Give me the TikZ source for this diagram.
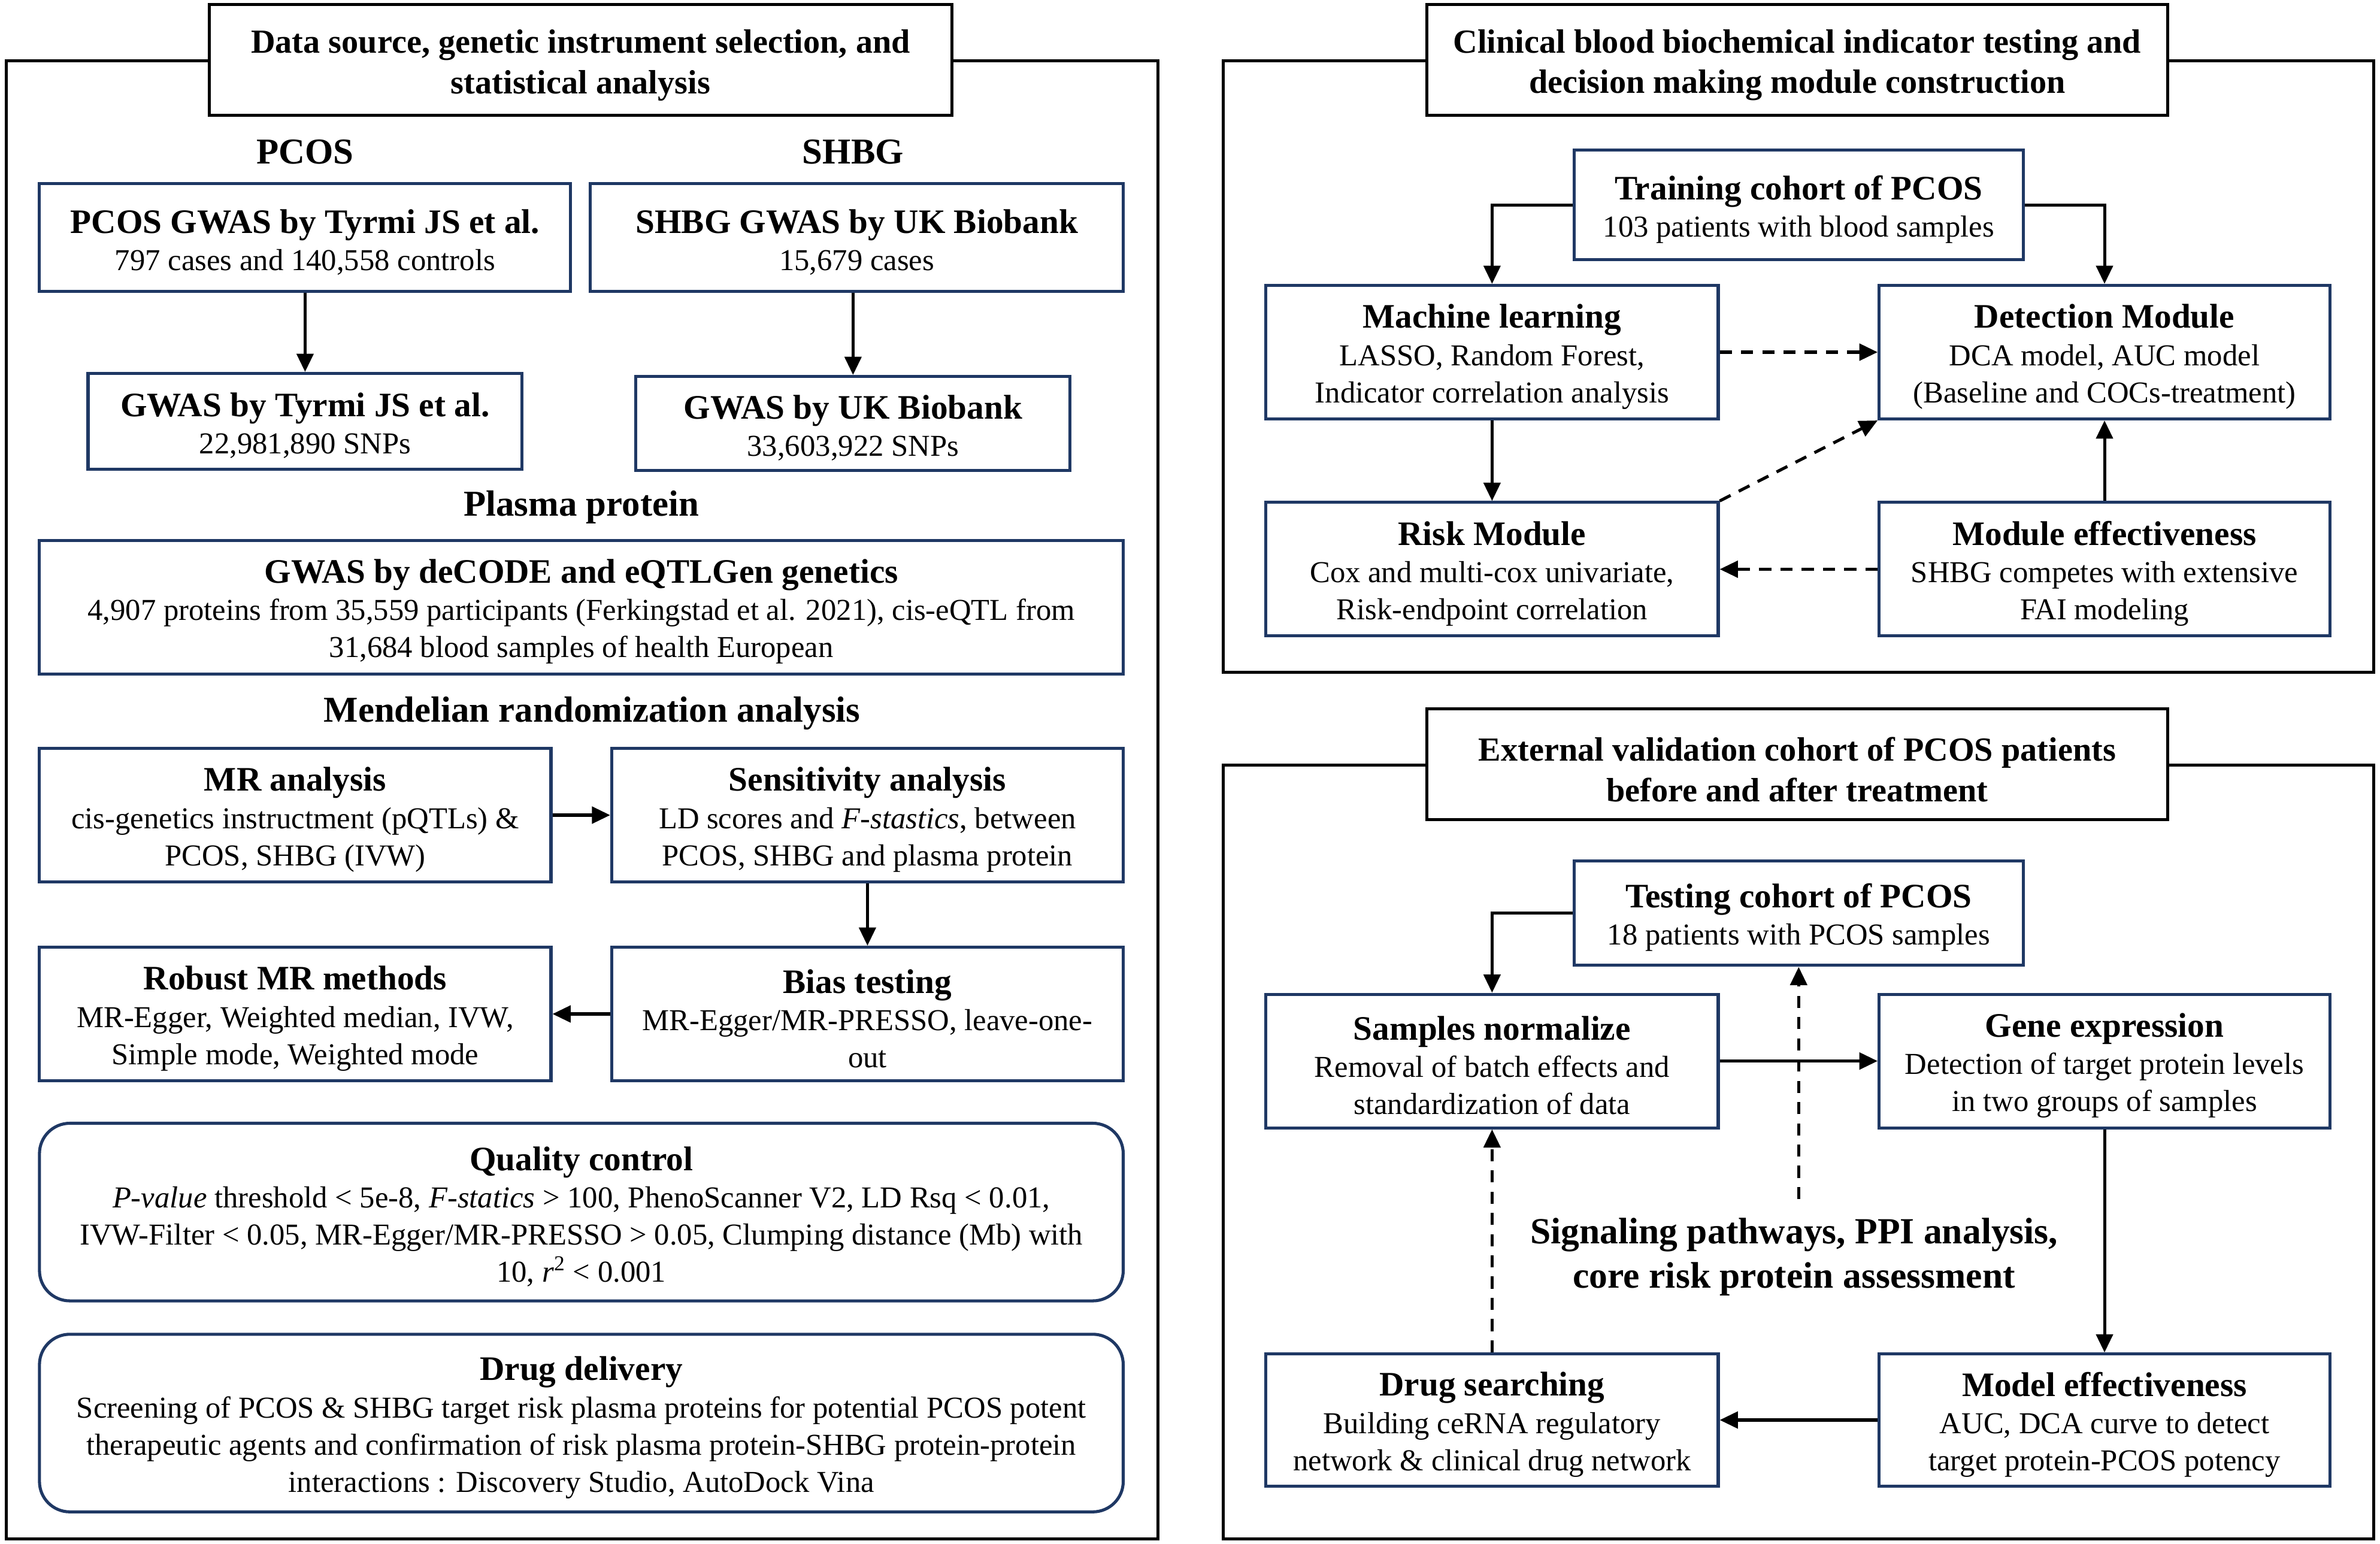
\documentclass[tikz,border=0pt]{standalone}
\usepackage{fontspec}
\setmainfont{Liberation Serif}
\usetikzlibrary{arrows.meta}
\definecolor{navy}{HTML}{1F3864}
\tikzset{
 bx/.style={draw=navy, line width=2pt, fill=white, inner sep=0pt},
 rbx/.style={bx, rounded corners=20pt},
 txt/.style={inner sep=0pt, align=center, font=\fontsize{20}{24.5}\selectfont},
 frame/.style={draw=black, line width=2pt},
 ttl/.style={draw=black, line width=2pt, fill=white, inner sep=0pt},
 ttltxt/.style={inner sep=0pt, align=center, font=\fontsize{22.2}{26.5}\selectfont\bfseries},
 lbl/.style={inner sep=0pt, font=\fontsize{24}{28}\selectfont\bfseries},
 arr/.style={line width=2pt, -{Triangle[length=12pt,width=11pt]}},
 darr/.style={arr, dash pattern=on 8pt off 6pt},
}
\newcommand\hd[1]{{\fontsize{22.6}{25}\selectfont\bfseries #1}}
\newcommand\mkbox[7][bx]{\node[#1, minimum width={#5-#3}, minimum height={#6-#4}] (#2) at ({(#3+#5)/2},{(#4+#6)/2}) {};
 \node[txt] (#2-t) at ([yshift=-3pt]#2.center) {#7};}
\newcommand\mkttl[6]{\node[ttl, minimum width={#4-#2}, minimum height={#5-#3}] (#1) at ({(#2+#4)/2},{(#3+#5)/2}) {};
 \node[ttltxt] (#1-t) at ([yshift=-3.5pt]#1.center) {#6};}
\begin{document}
\begin{tikzpicture}[x=1pt,y=-1pt]
\useasboundingbox (0,0) rectangle (1568,1017);
% ---------- left panel ----------
\draw[frame] (4,40) rectangle (763,1014);
\mkttl{t1}{138}{3}{627}{76}{Data source, genetic instrument selection, and\\statistical analysis}
\node[lbl] (lpcos) at (201,100) {PCOS};
\node[lbl] (lshbg) at (562,100) {SHBG};
\mkbox{pg}{26}{121}{376}{192}{\hd{PCOS GWAS by Tyrmi JS et al.}\\797 cases and 140,558 controls}
\mkbox{sg}{389}{121}{740}{192}{\hd{SHBG GWAS by UK Biobank}\\15,679 cases}
\mkbox{ty}{58}{246}{344}{309}{\hd{GWAS by Tyrmi JS et al.}\\22,981,890 SNPs}
\mkbox{uk}{419}{248}{705}{310}{\hd{GWAS by UK Biobank}\\33,603,922 SNPs}
\node[lbl] (lpp) at (383,334) {Plasma protein};
\mkbox{dc}{26}{356}{740}{444}{\hd{GWAS by deCODE and eQTLGen genetics}\\4,907 proteins from 35,559 participants (Ferkingstad et al. 2021), cis-eQTL from\\31,684 blood samples of health European}
\node[lbl] (lmr) at (390,470) {Mendelian randomization analysis};
\mkbox{mr}{26}{493}{363}{581}{\hd{MR analysis}\\cis-genetics instructment (pQTLs) \&\\PCOS, SHBG (IVW)}
\mkbox{sa}{403}{493}{740}{581}{\hd{Sensitivity analysis}\\LD scores and \textit{F-stastics}, between\\PCOS, SHBG and plasma protein}
\mkbox{bt}{403}{624}{740}{712}{\hd{Bias testing}\\MR-Egger/MR-PRESSO, leave-one-\\out}
\mkbox{rm}{26}{624}{363}{712}{\hd{Robust MR methods}\\MR-Egger, Weighted median, IVW,\\Simple mode, Weighted mode}
\mkbox[rbx]{qc}{26}{740}{740}{857}{\hd{Quality control}\\\textit{P-value} threshold < 5e-8, \textit{F-statics} > 100, PhenoScanner V2, LD Rsq < 0.01,\\IVW-Filter < 0.05, MR-Egger/MR-PRESSO > 0.05, Clumping distance (Mb) with\\10, \textit{r}\textsuperscript{2} < 0.001}
\mkbox[rbx]{dd}{26}{879}{740}{996}{\hd{Drug delivery}\\Screening of PCOS \& SHBG target risk plasma proteins for potential PCOS potent\\therapeutic agents and confirmation of risk plasma protein-SHBG protein-protein\\interactions : Discovery Studio, AutoDock Vina}
\draw[arr] (ty.north |- pg.south) -- (ty.north);
\draw[arr] (uk.north |- sg.south) -- (uk.north);
\draw[arr] (mr) -- (sa);
\draw[arr] (sa) -- (bt);
\draw[arr] (bt) -- (rm);
% ---------- right top panel ----------
\draw[frame] (806,40) rectangle (1564,443);
\mkttl{t2}{940}{3}{1428}{76}{Clinical blood biochemical indicator testing and\\decision making module construction}
\mkbox{tr}{1037}{99}{1333}{171}{\hd{Training cohort of PCOS}\\103 patients with blood samples}
\mkbox{ml}{834}{188}{1132}{276}{\hd{Machine learning}\\LASSO, Random Forest,\\Indicator correlation analysis}
\mkbox{dm}{1238}{188}{1535}{276}{\hd{Detection Module}\\DCA model, AUC model\\(Baseline and COCs-treatment)}
\mkbox{rk}{834}{331}{1132}{419}{\hd{Risk Module}\\Cox and multi-cox univariate,\\Risk-endpoint correlation}
\mkbox{me}{1238}{331}{1535}{419}{\hd{Module effectiveness}\\SHBG competes with extensive\\FAI modeling}
\draw[arr] (tr.west) -| (ml.north);
\draw[arr] (tr.east) -| (dm.north);
\draw[darr] (ml) -- (dm);
\draw[arr] (ml) -- (rk);
\draw[darr] (rk.north east) -- (dm.south west);
\draw[arr] (me) -- (dm);
\draw[darr] (me) -- (rk);
% ---------- right bottom panel ----------
\draw[frame] (806,504) rectangle (1564,1014);
\mkttl{t3}{940}{467}{1428}{540}{External validation cohort of PCOS patients\\before and after treatment}
\mkbox{tc}{1037}{567}{1333}{636}{\hd{Testing cohort of PCOS}\\18 patients with PCOS samples}
\mkbox{sn}{834}{655}{1132}{743}{\hd{Samples normalize}\\Removal of batch effects and\\standardization of data}
\mkbox{ge}{1238}{655}{1535}{743}{\hd{Gene expression}\\Detection of target protein levels\\in two groups of samples}
\mkbox{mo}{1238}{892}{1535}{979}{\hd{Model effectiveness}\\AUC, DCA curve to detect\\target protein-PCOS potency}
\mkbox{ds}{834}{892}{1132}{979}{\hd{Drug searching}\\Building ceRNA regulatory\\network \& clinical drug network}
\node[inner sep=0pt, align=center, font=\fontsize{24.3}{29}\selectfont\bfseries] (sig) at (1182,828) {Signaling pathways, PPI analysis,\\core risk protein assessment};
\coordinate (sigtop) at (1185,790);
\draw[arr] (tc.west) -| (sn.north);
\draw[arr] (sn) -- (ge);
\draw[arr] (ge) -- (mo);
\draw[arr] (mo) -- (ds);
\draw[darr] (ds) -- (sn);
\draw[darr] (sigtop) -- (tc.south);
\end{tikzpicture}
\end{document}
